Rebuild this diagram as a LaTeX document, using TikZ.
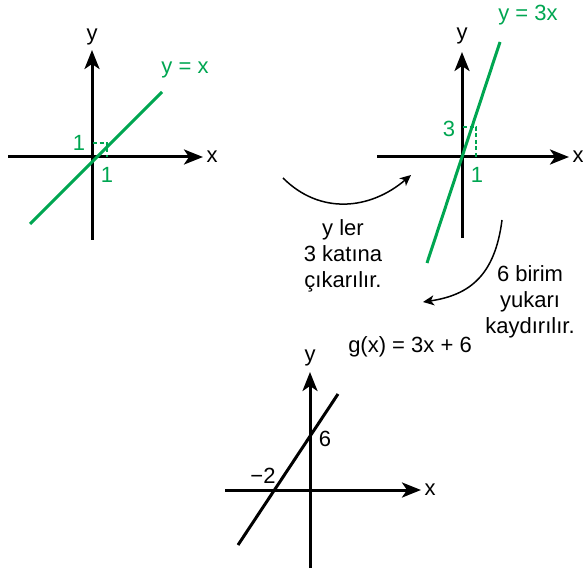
\documentclass[tikz,border=0pt]{standalone}
\usepackage{fontspec}
\setmainfont{Liberation Sans}
\usetikzlibrary{arrows.meta}
\definecolor{gr}{RGB}{0,166,81}
\begin{document}
\begin{tikzpicture}[x=1pt,y=-1pt,
  axis/.style={line width=3pt,-{Stealth[length=19pt,width=15pt,inset=5pt]}},
  graph/.style={line width=3pt},
  dsh/.style={gr,line width=2.4pt,dash pattern=on 4pt off 2.5pt},
  curv/.style={line width=1.5pt,-{Stealth[length=11pt,width=10pt,inset=3pt]}},
  lbl/.style={font=\fontsize{22}{26}\selectfont,inner sep=0pt},
  txt/.style={font=\fontsize{22}{26}\selectfont,align=center,inner sep=0pt}]
\useasboundingbox (0,0) rectangle (583,569);
% Panel 1
\coordinate (a1l) at (8,157); \coordinate (a1r) at (203,157);
\coordinate (a1b) at (92,240); \coordinate (a1t) at (92,50);
\draw[axis] (a1l) -- (a1r);
\draw[axis] (a1b) -- (a1t);
\node[lbl] (x1) at (212,157) {x};
\node[lbl] (y1) at (92,37) {y};
\coordinate (g1a) at (30,224); \coordinate (g1b) at (162,92);
\draw[graph,gr] (g1a) -- (g1b);
\coordinate (p1) at (107,143); \coordinate (p1y) at (93,143); \coordinate (p1x) at (107,157);
\draw[dsh] (p1y) -- (p1) -- (p1x);
\node[lbl,gr] (one1a) at (79,143) {1};
\node[lbl,gr] (one1b) at (107,175) {1};
\node[lbl,gr] (eq1) at (185,70) {y = x};
% Panel 2
\coordinate (a2l) at (377,157); \coordinate (a2r) at (569,157);
\coordinate (a2b) at (462,238); \coordinate (a2t) at (462,52);
\draw[axis] (a2l) -- (a2r);
\draw[axis] (a2b) -- (a2t);
\node[lbl] (x2) at (578,157) {x};
\node[lbl] (y2) at (462,36) {y};
\coordinate (g2a) at (427,263); \coordinate (g2b) at (500,42);
\draw[graph,gr] (g2a) -- (g2b);
\coordinate (p2) at (476,127); \coordinate (p2y) at (463,127); \coordinate (p2x) at (476,157);
\draw[dsh] (p2y) -- (p2) -- (p2x);
\node[lbl,gr] (three2) at (449,129) {3};
\node[lbl,gr] (one2) at (477,175) {1};
\node[lbl,gr] (eq2) at (528,15) {y = 3x};
% Transition 1
\coordinate (c1s) at (283,178); \coordinate (c1e) at (411,175);
\draw[curv] (c1s) .. controls (320,215) and (370,210) .. (c1e);
\node[txt] (t1) at (343,256) {y ler\\3 katına\\çıkarılır.};
% Transition 2
\coordinate (c2s) at (502,220); \coordinate (c2e) at (423,302);
\draw[curv] (c2s) .. controls (495,275) and (470,295) .. (c2e);
\node[txt] (t2) at (530,302) {6 birim\\yukarı\\kaydırılır.};
\node[lbl] (eq3) at (410,347) {g(x) = 3x + 6};
% Panel 3
\coordinate (a3l) at (225,490); \coordinate (a3r) at (421,490);
\coordinate (a3b) at (310,568); \coordinate (a3t) at (310,372);
\draw[axis] (a3l) -- (a3r);
\draw[axis] (a3b) -- (a3t);
\node[lbl] (x3) at (430,490) {x};
\node[lbl] (y3) at (310,358) {y};
\coordinate (g3a) at (238,545); \coordinate (g3b) at (338,394);
\draw[graph] (g3a) -- (g3b);
\node[lbl] (six3) at (325,439) {6};
\node[lbl] (m2) at (263,476) {\textminus2};
\end{tikzpicture}
\end{document}
